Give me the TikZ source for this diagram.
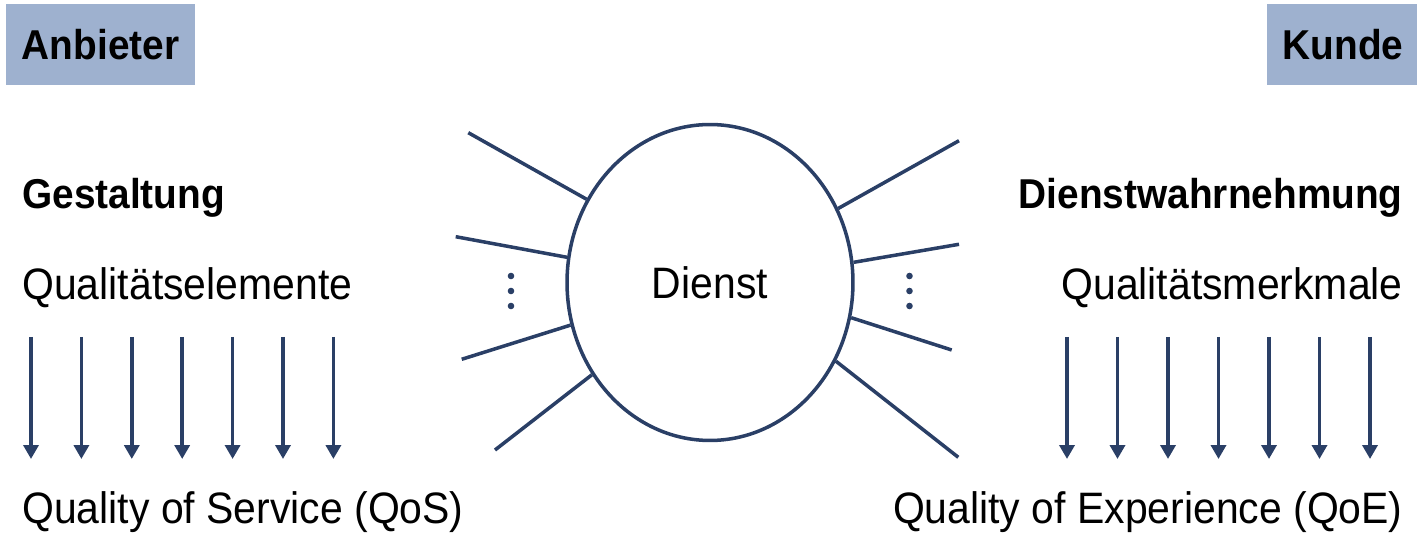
\documentclass[tikz,border=0pt]{standalone}
\usepackage{fontspec}
\setmainfont{Liberation Sans}[FakeStretch=0.93]
\usetikzlibrary{positioning,shapes.geometric,arrows.meta}
\definecolor{navy}{RGB}{42,63,102}
\definecolor{boxblau}{RGB}{158,177,207}

\begin{document}
\begin{tikzpicture}[x=0.02cm,y=-0.02cm,
    txt/.style={inner sep=0pt,font=\fontsize{25.05}{30}\selectfont},
    titel/.style={inner sep=0pt,font=\fontsize{23.75}{28}\selectfont\bfseries},
    rolle/.style={titel,fill=boxblau,inner xsep=0.31cm,minimum height=1.62cm},
    pfeil/.style={navy,line width=2pt,-{Triangle[width=0.3cm,length=0.28cm]}},
    strahl/.style={navy,line width=2pt}]
    \useasboundingbox (0,0) rectangle (1417,533);
    % Rollen
    \node[rolle] (anbieter) at (100.5,44.5) {Anbieter};
    \node[rolle] (kunde) at (1343,44.5) {Kunde};
    % Anbieterseite
    \node[titel,anchor=base west] (gestaltung) at (22,209) {Gestaltung};
    \node[txt,anchor=base west] (elemente) at (22,300) {Qualitätselemente};
    \node[txt,anchor=base west] (qos) at (22,523) {Quality of Service (QoS)};
    % Kundenseite
    \node[titel,anchor=base east] (wahrnehmung) at (1403,209) {Dienstwahrnehmung};
    \node[txt,anchor=base east] (merkmale) at (1403,300) {Qualitätsmerkmale};
    \node[txt,anchor=base east] (qoe) at (1403,523) {Quality of Experience (QoE)};
    % Dienst
    \node[txt,draw=navy,line width=2pt,ellipse,minimum width=5.72cm,minimum height=6.32cm] (dienst) at (710,282.5) {Dienst};
    \foreach \w/\x/\y [count=\i] in {146/468.3/132.7, 170/455.7/236.7, 197/461.7/359.3, 218/495/450,
                                     30/959/140.7, 8/959/244.3, 346/951.7/350, 328/958.3/457.3} {
        \coordinate (s\i) at (\x,\y);
        \draw[strahl] (dienst.\w) -- (s\i);
    }
    \foreach \x in {511,909.5}
        \foreach \y in {276,291,306}
            \fill[navy] (\x,\y) circle (3.3);
    % Pfeile
    \foreach \i in {0,...,6} {
        \coordinate (qa\i) at (31+50.4*\i,337);
        \coordinate (qb\i) at (31+50.4*\i,459);
        \draw[pfeil] (qa\i) -- (qb\i);
        \coordinate (ka\i) at (1067+50.5*\i,337);
        \coordinate (kb\i) at (1067+50.5*\i,459);
        \draw[pfeil] (ka\i) -- (kb\i);
    }
\end{tikzpicture}
\end{document}
